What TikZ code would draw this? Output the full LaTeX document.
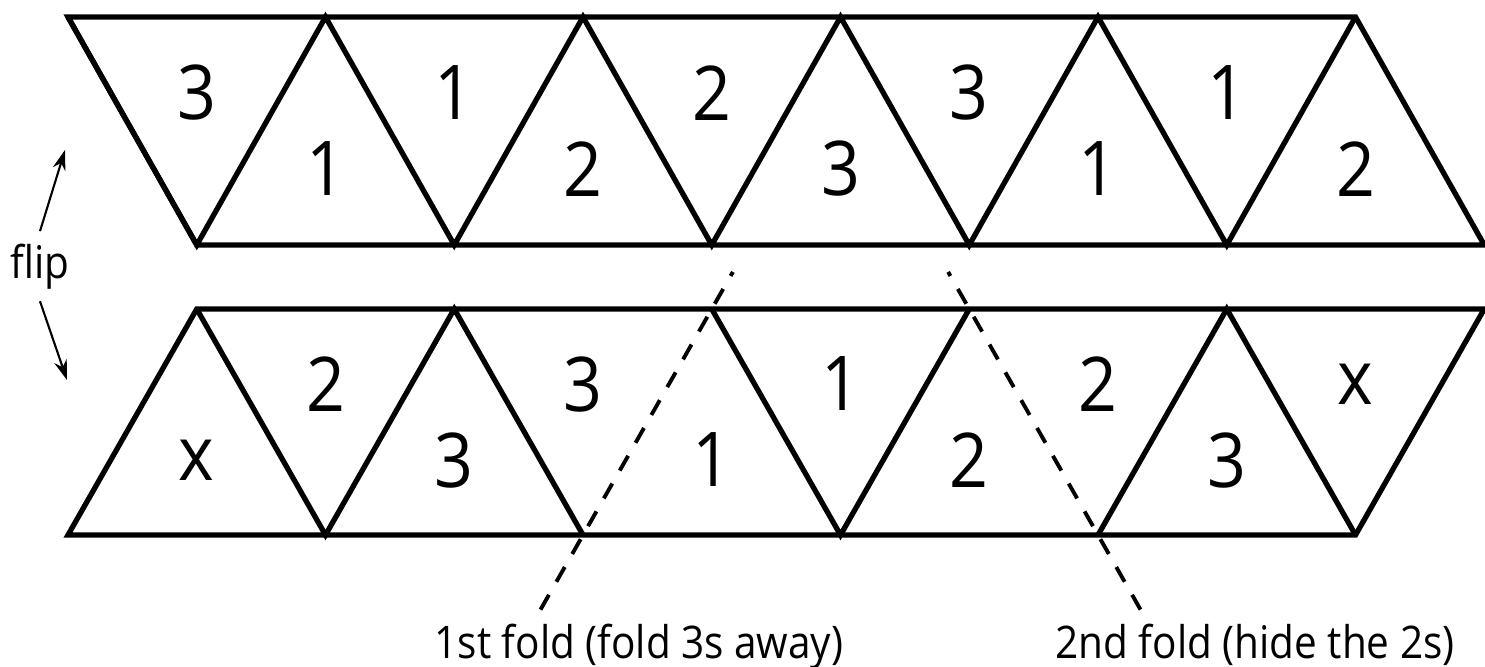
\documentclass[tikz,border=0pt]{standalone}
\usepackage{fontspec}
\setmainfont{Open Sans}[FakeStretch=0.9]
\usetikzlibrary{arrows.meta,calc}

\tikzset{
  strip/.style={line width=1.5pt},
  digit/.style={font=\fontsize{21.5}{24}\selectfont},
  note/.style={font=\fontsize{12.8}{15}\selectfont},
  foldline/.style={line width=1.1pt,dash pattern=on 1.7mm off 1.5mm},
}

\begin{document}
\begin{tikzpicture}[>={Stealth[length=2mm,width=1.3mm]}]
  \useasboundingbox (0,0) rectangle (14.85,6.66);
  \def\side{2.575}
  % corners of both strips
  \foreach \k in {0,...,5}{
    \coordinate (T\k) at (0.68+\k*\side,6.49);
    \coordinate (B\k) at (0.68+\side/2+\k*\side,4.21);
    \coordinate (L\k) at (0.68+\k*\side,1.31);
    \coordinate (U\k) at (0.68+\side/2+\k*\side,3.57);
  }
  % top strip
  \draw[strip] (T0) -- (T5) -- (B5) -- (B0) -- cycle;
  \draw[strip] (T0) -- (B0) -- (T1) -- (B1) -- (T2) -- (B2) -- (T3) -- (B3) -- (T4) -- (B4) -- (T5);
  \foreach \k/\t in {0/3,1/1,2/2,3/3,4/1}
    \node[digit] (td\k) at (0.68+\k*\side+\side/2,5.73) {\t};
  \foreach \k/\t in {1/1,2/2,3/3,4/1,5/2}
    \node[digit] (tu\k) at (0.68+\k*\side,4.97) {\t};
  % bottom strip, two edges are the fold lines
  \draw[strip] (L0) -- (L5) -- (U5) -- (U0) -- cycle;
  \draw[strip] (U0) -- (L1) -- (U1) -- (L2);
  \draw[strip] (U2) -- (L3) -- (U3);
  \draw[strip] (L4) -- (U4) -- (L5);
  \foreach \k/\t in {0/x,1/3,2/1,3/2,4/3}
    \node[digit] (bu\k) at (0.68+\k*\side+\side/2,2.06) {\t};
  \foreach \k/\t in {1/2,2/3,3/1,4/2,5/x}
    \node[digit] (bd\k) at (0.68+\k*\side,2.82) {\t};
  % flip
  \node[note,anchor=base] (flip) at (0.40,3.88) {flip};
  \coordinate (flipup) at (0.65,5.16);
  \coordinate (flipdown) at (0.67,2.86);
  \draw[->,line width=0.6pt] (flip.north) -- (flipup);
  \draw[->,line width=0.6pt] (flip.south) -- (flipdown);
  % folds
  \coordinate (fold1a) at ($(U2)!-0.164!(L2)$);
  \coordinate (fold1b) at ($(L2)!-0.33!(U2)$);
  \coordinate (fold2a) at ($(U3)!-0.164!(L4)$);
  \coordinate (fold2b) at ($(L4)!-0.33!(U3)$);
  \draw[foldline] (fold1b) -- (fold1a);
  \draw[foldline] (fold2b) -- (fold2a);
  \node[note,anchor=base] (fold1) at (6.39,0.08) {1st fold (fold 3s away)};
  \node[note,anchor=base] (fold2) at (12.55,0.08) {2nd fold (hide the 2s)};
\end{tikzpicture}
\end{document}
